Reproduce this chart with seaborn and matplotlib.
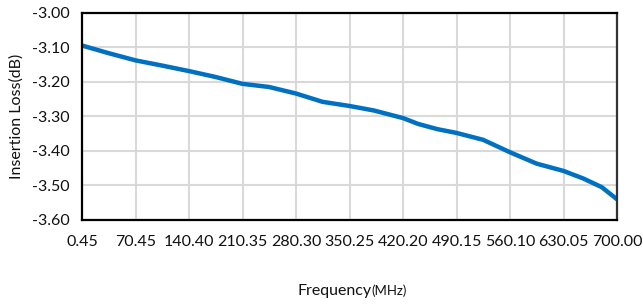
import pandas as pd
import seaborn as sns
from matplotlib import pyplot as plt

# values
freq = [0.45, 35, 70.45, 105, 140.40, 175, 210.35, 245, 280.30, 315, 350.25,
        382, 420.20, 440, 465, 490.15, 525, 560.10, 595, 630.05, 656, 680, 700.00]
loss = [-3.095, -3.117, -3.138, -3.153, -3.169, -3.186, -3.206, -3.215, -3.234,
        -3.258, -3.270, -3.283, -3.305, -3.322, -3.337, -3.348, -3.368, -3.404,
        -3.437, -3.458, -3.480, -3.505, -3.540]

xticks = [0.45, 70.45, 140.40, 210.35, 280.30, 350.25, 420.20, 490.15, 560.10, 630.05, 700.00]
xtick_labels = ['0.45', '70.45', '140.40', '210.35', '280.30', '350.25',
                '420.20', '490.15', '560.10', '630.05', '700.00']
yticks = [-3.60, -3.50, -3.40, -3.30, -3.20, -3.10, -3.00]

df = pd.DataFrame({'Frequency': freq, 'Loss': loss})

sns.set_style('white')
plt.rcParams['font.family'] = ['Lato', 'DejaVu Sans']

fig = plt.figure(figsize=(6.43, 3.05), dpi=100)
ax = fig.add_axes([0.1275, 0.2787, 0.8321, 0.6797])

sns.lineplot(data=df, x='Frequency', y='Loss', ax=ax, color='#0070C0', linewidth=3.2)

ax.set_xlim(0.45, 700.00)
ax.set_ylim(-3.60, -3.00)
ax.set_xticks(xticks)
ax.set_xticklabels(xtick_labels)
ax.set_yticks(yticks)
ax.set_yticklabels(['%.2f' % v for v in yticks])
ax.tick_params(axis='both', length=0, labelsize=11.5, colors='#111111')
ax.tick_params(axis='x', pad=11)
ax.tick_params(axis='y', pad=9)
ax.grid(True, color='#D9D9D9', linewidth=1.5)
ax.set_axisbelow(True)
for side in ['left', 'bottom', 'top', 'right']:
    ax.spines[side].set_visible(True)
    ax.spines[side].set_color('black')
    ax.spines[side].set_linewidth(1.6)
ax.spines['right'].set_color('#333333')

ax.set_xlabel('')
ax.set_ylabel('Insertion Loss(dB)', fontsize=11.5, color='#111111', labelpad=6)

fig.text(0.578, 0.032, 'Frequency', fontsize=11.5, color='#111111', ha='right', va='baseline')
fig.text(0.578, 0.032, '(MHz)', fontsize=9.5, color='#111111', ha='left', va='baseline')

fig.savefig('out.png', dpi=100)
